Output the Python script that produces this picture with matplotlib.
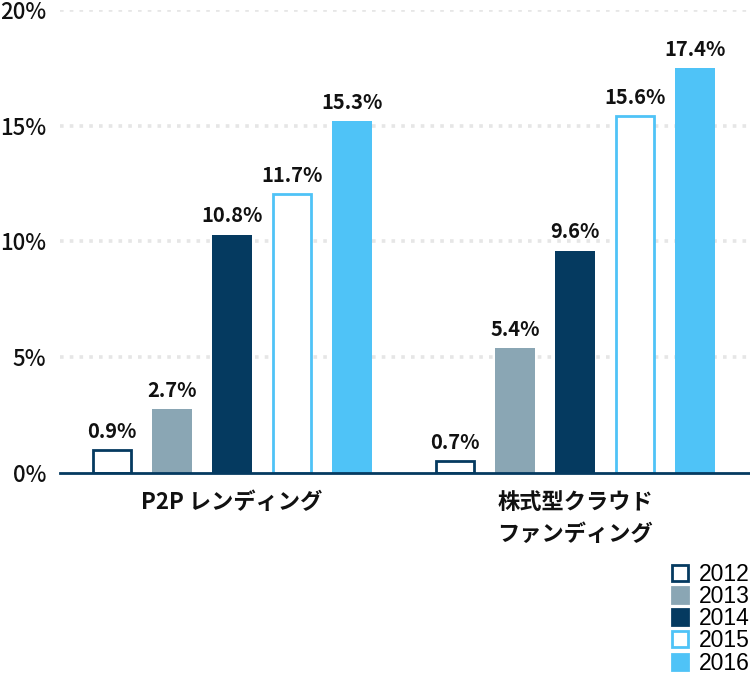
import matplotlib
matplotlib.use("Agg")
import matplotlib.pyplot as plt
from matplotlib.patches import Patch
import numpy as np

plt.rcParams['font.family'] = ['Noto Sans CJK JP', 'DejaVu Sans']

categories = ["P2P レンディング", "株式型クラウド\nファンディング"]
years = ["2012", "2013", "2014", "2015", "2016"]
# bar heights as drawn in the picture, and the printed labels
heights = {
    "2012": [1.0, 0.5],
    "2013": [2.75, 5.4],
    "2014": [10.3, 9.6],
    "2015": [12.05, 15.4],
    "2016": [15.2, 17.5],
}
labels = {
    "2012": ["0.9%", "0.7%"],
    "2013": ["2.7%", "5.4%"],
    "2014": ["10.8%", "9.6%"],
    "2015": ["11.7%", "15.6%"],
    "2016": ["15.3%", "17.4%"],
}
yticks = [0, 5, 10, 15, 20]

navy = "#053a60"
grey = "#8aa6b4"
light = "#4fc3f7"
face = {"2012": "white", "2013": grey, "2014": navy, "2015": "white", "2016": light}
edge = {"2012": navy, "2013": grey, "2014": navy, "2015": light, "2016": light}

fig = plt.figure(figsize=(7.5, 6.8), dpi=100)
ax = fig.add_axes([60 / 750, 1 - 473 / 680, 690 / 750, 463 / 680])

scale = 343.0
width = 40 / scale
x = np.arange(len(categories))
for i, yr in enumerate(years):
    off = (i - 2) * 60 / scale
    lw = 2 if face[yr] == "white" else 0
    bars = ax.bar(x + off, heights[yr], width=width - lw / scale, color=face[yr],
                  edgecolor=edge[yr], linewidth=lw, zorder=3)
    for b, txt in zip(bars, labels[yr]):
        ax.annotate(txt, (b.get_x() + b.get_width() / 2, b.get_height()),
                    xytext=(0, 6), textcoords="offset points", ha="center",
                    va="bottom", fontsize=14.5, fontweight="bold", color="#111111")

ax.set_xlim((60 - 232) / scale, (750 - 232) / scale)
ax.set_ylim(0, 20)
ax.set_yticks(yticks)
ax.set_yticklabels([f"{v}%" for v in yticks], fontsize=16, fontweight=500,
                   color="#111111")
ax.tick_params(axis="y", length=0, pad=10)
ax.set_xticks(x)
ax.set_xticklabels(categories, fontsize=16, fontweight="bold", color="#111111",
                   linespacing=1.5)
ax.tick_params(axis="x", length=0, pad=13)
for lbl in ax.get_xticklabels():
    lbl.set_verticalalignment("top")

for v in yticks[1:]:
    ax.axhline(v, color="#e6e6e6", linewidth=2.6, linestyle=(0, (1, 1.7)), zorder=1)
for s in ["top", "right", "left"]:
    ax.spines[s].set_visible(False)
ax.spines["bottom"].set_color(navy)
ax.spines["bottom"].set_linewidth(2)
ax.spines["bottom"].set_zorder(4)

handles = [Patch(facecolor=face[yr], edgecolor=edge[yr], linewidth=2) for yr in years]
fig.legend(handles, years, loc="lower right", bbox_to_anchor=(1.0, 0.008),
           frameon=False, handlelength=0.7, handleheight=0.7,
           handletextpad=0.5, labelspacing=-0.04, borderaxespad=0.0, borderpad=0.0,
           prop={"family": ["Liberation Sans"], "size": 16.5})

fig.savefig("out.png", dpi=100)
